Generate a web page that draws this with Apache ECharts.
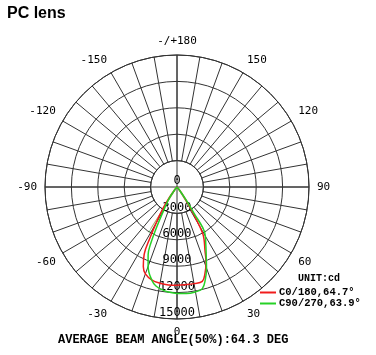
<!DOCTYPE html>
<html>
<head>
<meta charset="utf-8">
<script src="https://cdn.jsdelivr.net/npm/echarts@6/dist/echarts.min.js"></script>
<style>
html, body { margin: 0; padding: 0; background: #fff; }
#main { width: 376px; height: 355px; }
</style>
</head>
<body>
<div id="main"></div>
<script>
// C0/180 plane (gamma in degrees, intensity in cd)
var gammaC0 = [-90, -45, -40, -36, -33, -30, -28, -26, -23, -20, -15, -10, -5, 0, 5, 10, 15, 18, 21, 24, 27, 29, 31, 33, 36, 40, 45, 90];
var cdC0    = [0, 0, 300, 1500, 3000, 4800, 6500, 8500, 9800, 10500, 10950, 11100, 11170, 11170, 11150, 11150, 11100, 10300, 9200, 7800, 6800, 6000, 4000, 2500, 1200, 300, 0, 0];
// C90/270 plane
var gammaC90 = [-90, -45, -40, -35, -30, -27, -25, -23, -20, -15, -12, -8, -4, 0, 5, 10, 14, 17, 20, 23, 27, 31, 33, 35, 40, 45, 90];
var cdC90    = [0, 0, 300, 1500, 2900, 5000, 7000, 8400, 9600, 11000, 11500, 11800, 12000, 12100, 12160, 12100, 11900, 11000, 9800, 8500, 7200, 6150, 3500, 1800, 400, 0, 0];

var seriesNames = ['C0/180,64.7°', 'C90/270,63.9°'];
var beamAngles = [64.7, 63.9];
var colors = ['#f01c1c', '#26d126'];

var radiusMax = 15000;
var radiusStep = 3000;

function angleLabel(v) {
    if (v === -180) return '-/+180';
    if (v === 180) return '';
    if (v % 30 !== 0) return '';
    return String(v);
}

function toPolar(gamma, cd) {
    var res = [];
    for (var i = 0; i < gamma.length; i++) {
        res.push([cd[i], (gamma[i] + 360) % 360]);
    }
    return res;
}

function beamLine(beam, cd) {
    var half = Math.max.apply(null, cd) / 2;
    return [[half, 360 - beam / 2], [0, 0], [half, beam / 2]];
}

var myChart = echarts.init(document.getElementById('main'));

var option = {
    animation: false,
    title: [
        {
            text: 'PC lens', left: 7, top: 6, padding: 0,
            textStyle: { fontFamily: 'Liberation Sans', fontSize: 16, fontWeight: 'bold', color: '#000' }
        },
        {
            text: 'UNIT:cd', left: 298, top: 273, padding: 0,
            textStyle: { fontFamily: 'Liberation Mono', fontSize: 10, fontWeight: 'bold', color: '#000' }
        },
        {
            text: 'AVERAGE BEAM ANGLE(50%):64.3 DEG', left: 58, top: 334, padding: 0,
            textStyle: { fontFamily: 'Liberation Mono', fontSize: 12, fontWeight: 'bold', color: '#000' }
        }
    ],
    legend: {
        orient: 'vertical', left: 260, top: 287, padding: 0,
        itemWidth: 16, itemHeight: 2, itemGap: 0,
        icon: 'rect',
        data: seriesNames,
        textStyle: { fontFamily: 'Liberation Mono', fontSize: 10.5, fontWeight: 'bold', color: '#000', lineHeight: 11, padding: [0, 0, 0, -2] }
    },
    polar: [
        { center: [177, 187], radius: [26.4, 132] },
        { center: [177, 187], radius: [0, 132] }
    ],
    angleAxis: [
        {
            polarIndex: 0, type: 'value', min: -180, max: 180, interval: 10,
            startAngle: 90, clockwise: false,
            axisLine: { lineStyle: { color: '#333', width: 1 } },
            axisTick: { show: false },
            axisLabel: {
                margin: 8, formatter: angleLabel,
                fontFamily: 'DejaVu Sans Mono', fontSize: 11, color: '#000'
            },
            splitLine: { show: true, lineStyle: { color: '#333', width: 1 } }
        },
        {
            polarIndex: 1, type: 'value', min: 0, max: 360, interval: 90,
            startAngle: 270, clockwise: false,
            axisLine: { show: false },
            axisTick: { show: false },
            axisLabel: { show: false },
            splitLine: { show: true, lineStyle: { color: '#333', width: 1 } }
        }
    ],
    radiusAxis: [
        {
            polarIndex: 0, type: 'value', min: 0, max: 1, show: false,
            splitLine: { show: false }
        },
        {
            polarIndex: 1, type: 'value', min: 0, max: radiusMax, interval: radiusStep,
            axisLine: { show: false },
            axisTick: { show: false },
            axisLabel: {
                margin: 0, align: 'center', verticalAlign: 'bottom',
                formatter: function (v) { return String(v); },
                fontFamily: 'DejaVu Sans Mono', fontSize: 12, color: '#000'
            },
            splitLine: { show: true, lineStyle: { color: '#333', width: 1 } }
        }
    ],
    series: [
        {
            name: seriesNames[0], type: 'line', coordinateSystem: 'polar', polarIndex: 1,
            data: toPolar(gammaC0, cdC0), smooth: 0.4, showSymbol: false,
            lineStyle: { color: colors[0], width: 1.5 }, itemStyle: { color: colors[0] }, z: 3
        },
        {
            name: seriesNames[1], type: 'line', coordinateSystem: 'polar', polarIndex: 1,
            data: toPolar(gammaC90, cdC90), smooth: 0.4, showSymbol: false,
            lineStyle: { color: colors[1], width: 1.5 }, itemStyle: { color: colors[1] }, z: 3
        },
        {
            name: 'beam0', type: 'line', coordinateSystem: 'polar', polarIndex: 1,
            data: beamLine(beamAngles[0], cdC0), showSymbol: false, silent: true,
            lineStyle: { color: colors[0], width: 1, opacity: 0.45 }, z: 2
        },
        {
            name: 'beam1', type: 'line', coordinateSystem: 'polar', polarIndex: 1,
            data: beamLine(beamAngles[1], cdC90), showSymbol: false, silent: true,
            lineStyle: { color: colors[1], width: 1, opacity: 0.45 }, z: 2
        }
    ]
};

myChart.setOption(option);
window.addEventListener('resize', function () {
    myChart.resize();
});
</script>
</body>
</html>
